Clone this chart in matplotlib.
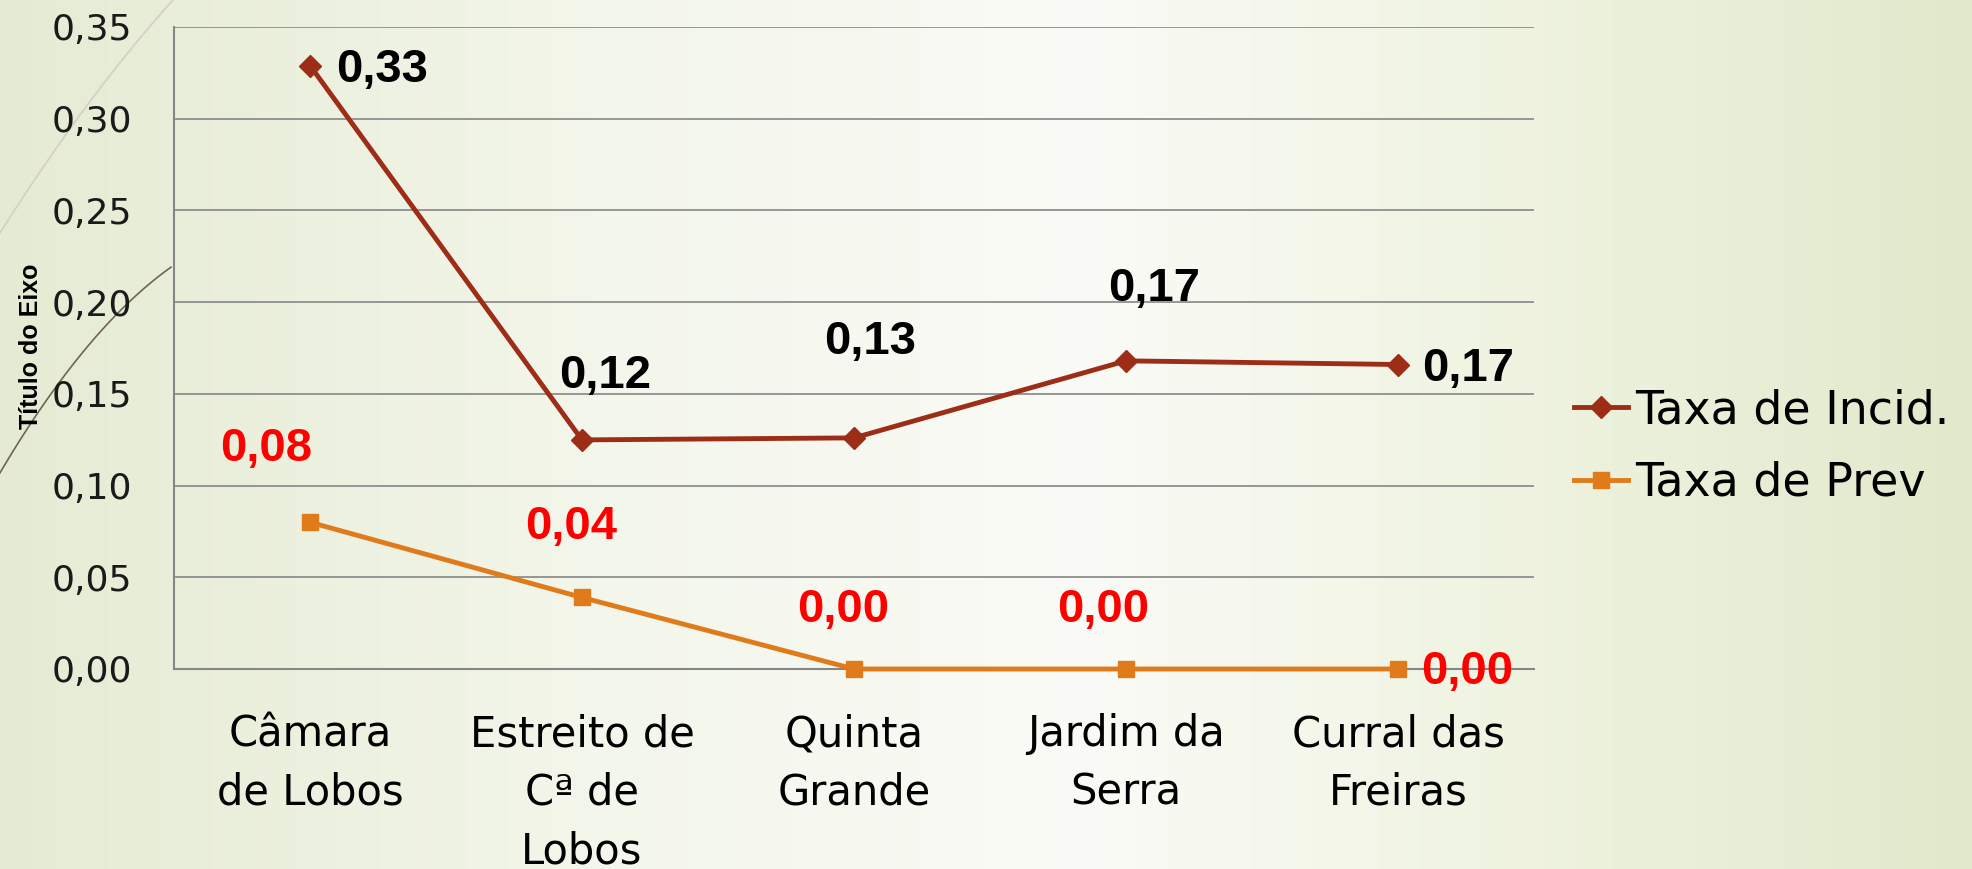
import numpy as np
import matplotlib.pyplot as plt
from matplotlib.ticker import FuncFormatter

# data
categories = ['Câmara\nde Lobos', 'Estreito de\nCª de\nLobos', 'Quinta\nGrande',
              'Jardim da\nSerra', 'Curral das\nFreiras']
taxa_incid = [0.329, 0.1249, 0.126, 0.168, 0.166]
taxa_prev = [0.080, 0.039, 0.0, 0.0, 0.0]
series_names = ['Taxa de Incid.', 'Taxa de Prev']
y_title = 'Título do Eixo'

# label offsets in pixels (dx, dy)
incid_off = [(72, -4), (23, 64), (16, 96), (28, 72), (70, -4)]
prev_off = [(-44, 73), (-11, 70), (-11, 59), (-23, 59), (69, -3)]

W, H = 1972, 869
fig = plt.figure(figsize=(W / 100, H / 100), dpi=100)

# background gradient + decorative curves
bg = fig.add_axes([0, 0, 1, 1], zorder=-10)
xs = np.linspace(0, 1, 400)
stops = [0.0, 0.3, 0.55, 0.75, 1.0]
cols = np.array([[229, 235, 211], [243, 246, 234], [250, 251, 246],
                 [240, 244, 226], [225, 233, 204]]) / 255
grad = np.stack([np.interp(xs, stops, cols[:, i]) for i in range(3)], axis=-1)
bg.imshow(np.tile(grad[None, :, :], (10, 1, 1)), aspect='auto', extent=[0, W, H, 0])
cx = np.array([0, 67, 173])
cy = np.array([233, 133, 0])
p = np.polyfit(cx, cy, 2)
xx = np.linspace(0, 173, 100)
bg.plot(xx, np.polyval(p, xx), color='#d2d3c2', lw=1.3)
dx_ = np.array([0, 53, 118, 171])
dy_ = np.array([474, 388, 316, 266])
p2 = np.polyfit(dx_, dy_, 2)
xx2 = np.linspace(0, 171, 100)
bg.plot(xx2, np.polyval(p2, xx2), color='#6f6652', lw=1.2)
bg.set_xlim(0, W)
bg.set_ylim(H, 0)
bg.axis('off')

ax = fig.add_axes([174 / W, 1 - 669 / H, (1534 - 174) / W, (669 - 27) / H])
ax.set_facecolor('none')

x = np.arange(len(categories))
c_incid = '#9e2d17'
c_prev = '#e07b1c'
ax.plot(x, taxa_incid, color=c_incid, lw=3.5, marker='D', markersize=11,
        label=series_names[0], zorder=3, clip_on=False)
ax.plot(x, taxa_prev, color=c_prev, lw=3.5, marker='s', markersize=12,
        label=series_names[1], zorder=3, clip_on=False)

fmt = lambda v: f'{v:.2f}'.replace('.', ',')
for i, v in enumerate(taxa_incid):
    ax.annotate(fmt(v), (x[i], v), xytext=incid_off[i], textcoords='offset pixels',
                ha='center', va='center', fontsize=34, fontweight='bold',
                family='Liberation Sans', color='black', zorder=4)
for i, v in enumerate(taxa_prev):
    ax.annotate(fmt(v), (x[i], v), xytext=prev_off[i], textcoords='offset pixels',
                ha='center', va='center', fontsize=34, fontweight='bold',
                family='Liberation Sans', color='#ff0000', zorder=4)

ax.set_xlim(-0.5, len(categories) - 0.5)
ax.set_ylim(0, 0.35)
ax.set_yticks(np.arange(0, 0.351, 0.05))
ax.yaxis.set_major_formatter(FuncFormatter(lambda v, _: fmt(v)))
ax.set_xticks(x)
ax.set_xticklabels(categories, fontsize=30, linespacing=1.5)
ax.tick_params(axis='y', length=0, pad=30, labelsize=26, labelcolor='#1a1a1a')
ax.tick_params(axis='x', length=0, pad=32, labelcolor='black')
ax.grid(axis='y', color='#868686', lw=1.2)
ax.set_axisbelow(True)
for s in ['top', 'right']:
    ax.spines[s].set_visible(False)
for s in ['left', 'bottom']:
    ax.spines[s].set_color('#868686')
    ax.spines[s].set_linewidth(1.5)

ax.set_ylabel(y_title, fontsize=18, fontweight='bold', family='Liberation Sans')
ax.yaxis.set_label_coords(-0.0964, 0.503)

ax.legend(loc='center left', bbox_to_anchor=(1574 / W, 1 - 447 / H),
          bbox_transform=fig.transFigure, frameon=False, fontsize=33,
          handlelength=1.18, handletextpad=0.15, labelspacing=0.6, borderpad=0,
          borderaxespad=0)

fig.savefig('out.png', dpi=100)
